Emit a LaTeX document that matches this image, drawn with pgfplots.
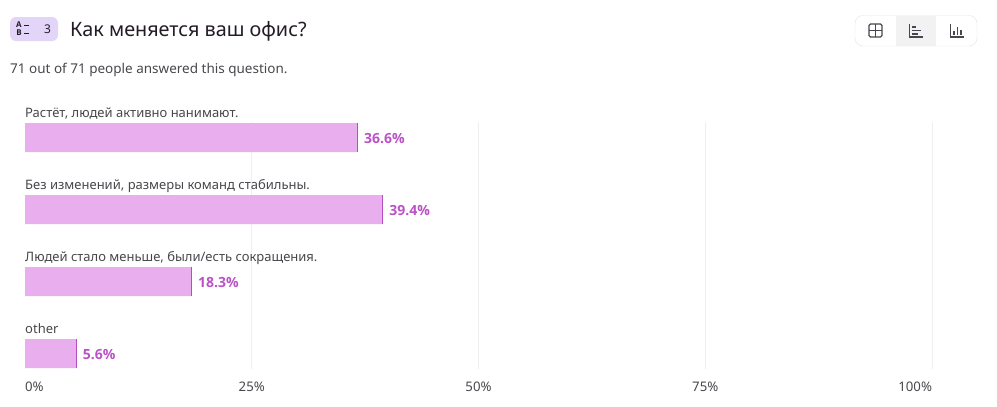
\documentclass[border=0pt]{standalone}
\usepackage{pgfplots}
\pgfplotsset{compat=1.18}
\usepackage{fontspec}
\setmainfont{Noto Sans}
\newfontfamily\boldfam{Open Sans}
\definecolor{barfill}{HTML}{E8AEEE}
\definecolor{barend}{HTML}{B84CC4}
\definecolor{valtxt}{HTML}{BC52C8}
\definecolor{lab}{HTML}{4A474C}
\definecolor{titlec}{HTML}{231C26}
\definecolor{gridc}{HTML}{EFEFEF}
\definecolor{badge}{HTML}{E3D5F8}
\definecolor{iconc}{HTML}{4A464E}
\begin{document}
\begin{tikzpicture}[x=1pt,y=-1pt]
\path[use as bounding box,fill=white] (0,0) rectangle (997,407);
\coordinate (plotNW) at (25,122);
% header
\fill[badge,rounded corners=6pt] (10,17) rectangle (58,41);
\node[anchor=center,inner sep=0pt,text=titlec,font=\boldfam\fontsize{8}{9}\selectfont\bfseries] at (19,25) {A};
\node[anchor=center,inner sep=0pt,text=titlec,font=\boldfam\fontsize{8}{9}\selectfont\bfseries] at (19,33) {B};
\draw[titlec,line width=1pt] (24,25) -- (29,25) (24,33) -- (29,33);
\node[anchor=center,inner sep=0pt,text=titlec,font=\fontsize{12}{14}\selectfont] at (47.5,29) {3};
\node[anchor=base west,inner sep=0pt,text=titlec,font=\fontsize{19.8}{22}\selectfont] at (70,36) {Как меняется ваш офис?};
\node[anchor=base west,inner sep=0pt,text=lab,font=\fontsize{13.5}{15}\selectfont] at (10,73) {71 out of 71 people answered this question.};
% view toggle
\fill[white] (855,15) rectangle (977,46);
\fill[black!5] (896,16) rectangle (936,46);
\draw[black!11,rounded corners=8pt] (855,15.5) rectangle (977,46);
\draw[iconc,line width=1.2pt,rounded corners=1.5pt] (869,24) rectangle (882,37);
\draw[iconc,line width=1.2pt] (875.5,24) -- (875.5,37) (869,30.5) -- (882,30.5);
\draw[iconc,line width=1.1pt] (909.5,24) -- (909.5,37) -- (922.5,37);
\draw[iconc,line width=1.1pt] (912,27) -- (916,27) (912,30.5) -- (921,30.5) (912,34) -- (918,34);
\draw[iconc,line width=1.1pt] (950.5,24) -- (950.5,37) -- (963.5,37);
\draw[iconc,line width=1.1pt] (954,34.5) -- (954,31) (957.5,34.5) -- (957.5,26.5) (961,34.5) -- (961,30);
% chart
\begin{axis}[
  at={(plotNW)}, anchor=north west,
  scale only axis, width=907pt, height=247pt,
  /pgf/number format/assume math mode=true,
  xmin=0, xmax=100, ymin=-0.2153, ymax=3.2153, y dir=reverse,
  axis line style={draw=none}, tick style={draw=none},
  xtick={25,50,75,100},
  xticklabels={25\%,50\%,75\%,\llap{100\%}},
  extra x ticks={0},
  extra x tick labels={\rlap{0\%}},
  extra x tick style={grid=none},
  ytick=\empty,
  xmajorgrids, major grid style={gridc,line width=0.8pt},
  tick label style={text=lab,font=\fontsize{13.2}{14}\selectfont},
  xticklabel style={anchor=base,yshift=-22pt},
  clip=false,
]
\addplot[xbar,bar width=29pt,fill=barfill,draw=none,bar shift=0pt]
  coordinates {(36.6,0) (39.4,1) (18.3,2) (5.6,3)};
\addplot[only marks,color=barend,mark=|,mark size=14.5pt,mark options={draw=barend,fill=barend,line width=1pt,xshift=0.6pt},
  nodes near coords={\pgfmathprintnumber[fixed,fixed zerofill,precision=1,assume math mode=true]{\pgfplotspointmeta}\%},
  point meta=x,
  every node near coord/.style={anchor=west,xshift=6pt,yshift=-1pt,text=valtxt,inner sep=0pt,font=\boldfam\fontsize{14}{15}\selectfont\bfseries}]
  coordinates {(36.6,0) (39.4,1) (18.3,2) (5.6,3)};
\node[anchor=base west,inner sep=0pt,text=lab,font=\fontsize{13}{14}\selectfont] at (axis cs:0,-0.28) {Растёт, людей активно нанимают.};
\node[anchor=base west,inner sep=0pt,text=lab,font=\fontsize{13}{14}\selectfont] at (axis cs:0,0.72) {Без изменений, размеры команд стабильны.};
\node[anchor=base west,inner sep=0pt,text=lab,font=\fontsize{13}{14}\selectfont] at (axis cs:0,1.72) {Людей стало меньше, были/есть сокращения.};
\node[anchor=base west,inner sep=0pt,text=lab,font=\fontsize{13}{14}\selectfont] at (axis cs:0,2.72) {other};
\end{axis}
\end{tikzpicture}
\end{document}
